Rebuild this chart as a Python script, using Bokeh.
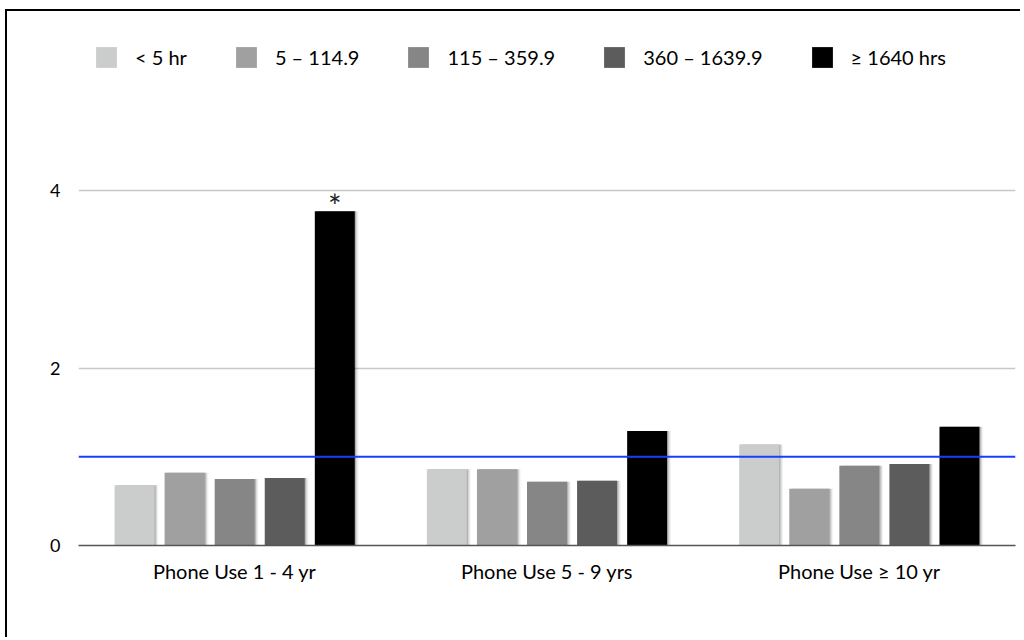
from bokeh.plotting import figure
from bokeh.models import (ColumnDataSource, Range1d, FixedTicker, Span, Legend, LegendItem)
from bokeh.core.properties import value
from bokeh.embed import file_html
from bokeh.resources import INLINE

groups = ["Phone Use 1 - 4 yr", "Phone Use 5 - 9 yrs", "Phone Use \u2265 10 yr"]
series = ["< 5 hr", "5 \u2013 114.9", "115 \u2013 359.9", "360 \u2013 1639.9", "\u2265 1640 hrs"]
colors = ["#cbcccc", "#9fa09f", "#858685", "#5b5c5b", "#000000"]
lt5 = [0.68, 0.86, 1.14]
h5_114 = [0.82, 0.86, 0.64]
h115_359 = [0.75, 0.72, 0.90]
h360_1639 = [0.76, 0.73, 0.92]
ge1640 = [3.77, 1.29, 1.34]
values = [lt5, h5_114, h115_359, h360_1639, ge1640]
star_series = 4
star_group = 0
ref_value = 1.0
y_ticks = [0, 2, 4]

FONT = "Lato"
BAR_STEP = 0.1603
BAR_W = 0.128

p = figure(width=1017, height=628, output_backend="svg", toolbar_location=None,
           x_range=Range1d(0, len(groups)), y_range=Range1d(0, 6),
           min_border_left=71, min_border_right=9, min_border_top=2, min_border_bottom=94)
p.outline_line_color = None
p.styles = {"margin-left": "7px", "margin-top": "11px",
            "box-shadow": "-2px -2px 0px 0px #000000",
            "clip-path": "inset(-4px 4px 0px -4px)"}

renderers = []
for i, (vals, col) in enumerate(zip(values, colors)):
    xs = [g + 0.5 + (i - 2) * BAR_STEP for g in range(len(groups))]
    # soft shadow
    for k, a in enumerate([0.18, 0.10, 0.05]):
        sh = ColumnDataSource(dict(x=[x + 0.004 * (k + 1) for x in xs], top=vals))
        p.vbar(x="x", top="top", width=BAR_W, source=sh, fill_color="#000000",
               fill_alpha=a, line_color=None)
    src = ColumnDataSource(dict(x=xs, top=vals))
    r = p.vbar(x="x", top="top", width=BAR_W, source=src, fill_color=col, line_color=None)
    renderers.append(r)

p.add_layout(Span(location=ref_value, dimension="width", line_color="#1a3cff", line_width=2))

sx = star_group + 0.5 + (star_series - 2) * BAR_STEP
p.text(x=[sx], y=[values[star_series][star_group]], text=["*"], text_align="center",
       text_baseline="middle", y_offset=-6, text_font=value(FONT), text_font_size="32px",
       text_color="#222222")

# axes
p.xaxis.ticker = FixedTicker(ticks=[g + 0.5 for g in range(len(groups))])
p.xaxis.major_label_overrides = {g + 0.5: name for g, name in enumerate(groups)}
p.xaxis.major_tick_line_color = None
p.xaxis.minor_tick_line_color = None
p.xaxis.axis_line_color = "#555555"
p.xaxis.axis_line_width = 1.5
p.xaxis.major_label_standoff = 7
p.xaxis.major_label_text_font = FONT
p.xaxis.major_label_text_font_size = "20px"
p.xaxis.major_label_text_color = "#000000"

p.yaxis.ticker = FixedTicker(ticks=y_ticks)
p.yaxis.axis_line_color = None
p.yaxis.major_tick_line_color = None
p.yaxis.minor_tick_line_color = None
p.yaxis.major_label_standoff = 12
p.yaxis.major_label_text_font = FONT
p.yaxis.major_label_text_font_size = "18px"
p.yaxis.major_label_text_color = "#000000"

p.xgrid.grid_line_color = None
p.ygrid.grid_line_color = "#c8c8c8"
p.ygrid.grid_line_width = 1.5
p.ygrid.ticker = FixedTicker(ticks=[t for t in y_ticks if t != 0])

legend = Legend(items=[LegendItem(label=s, renderers=[r]) for s, r in zip(series, renderers)],
                orientation="horizontal", location=(15, 475),
                glyph_width=26, glyph_height=26, label_standoff=16, spacing=46,
                padding=0, margin=0, border_line_color=None, background_fill_alpha=0,
                label_text_font=FONT, label_text_font_size="20px", label_text_color="#000000")
p.add_layout(legend, "center")

open("out.html", "w").write(file_html(p, INLINE))
